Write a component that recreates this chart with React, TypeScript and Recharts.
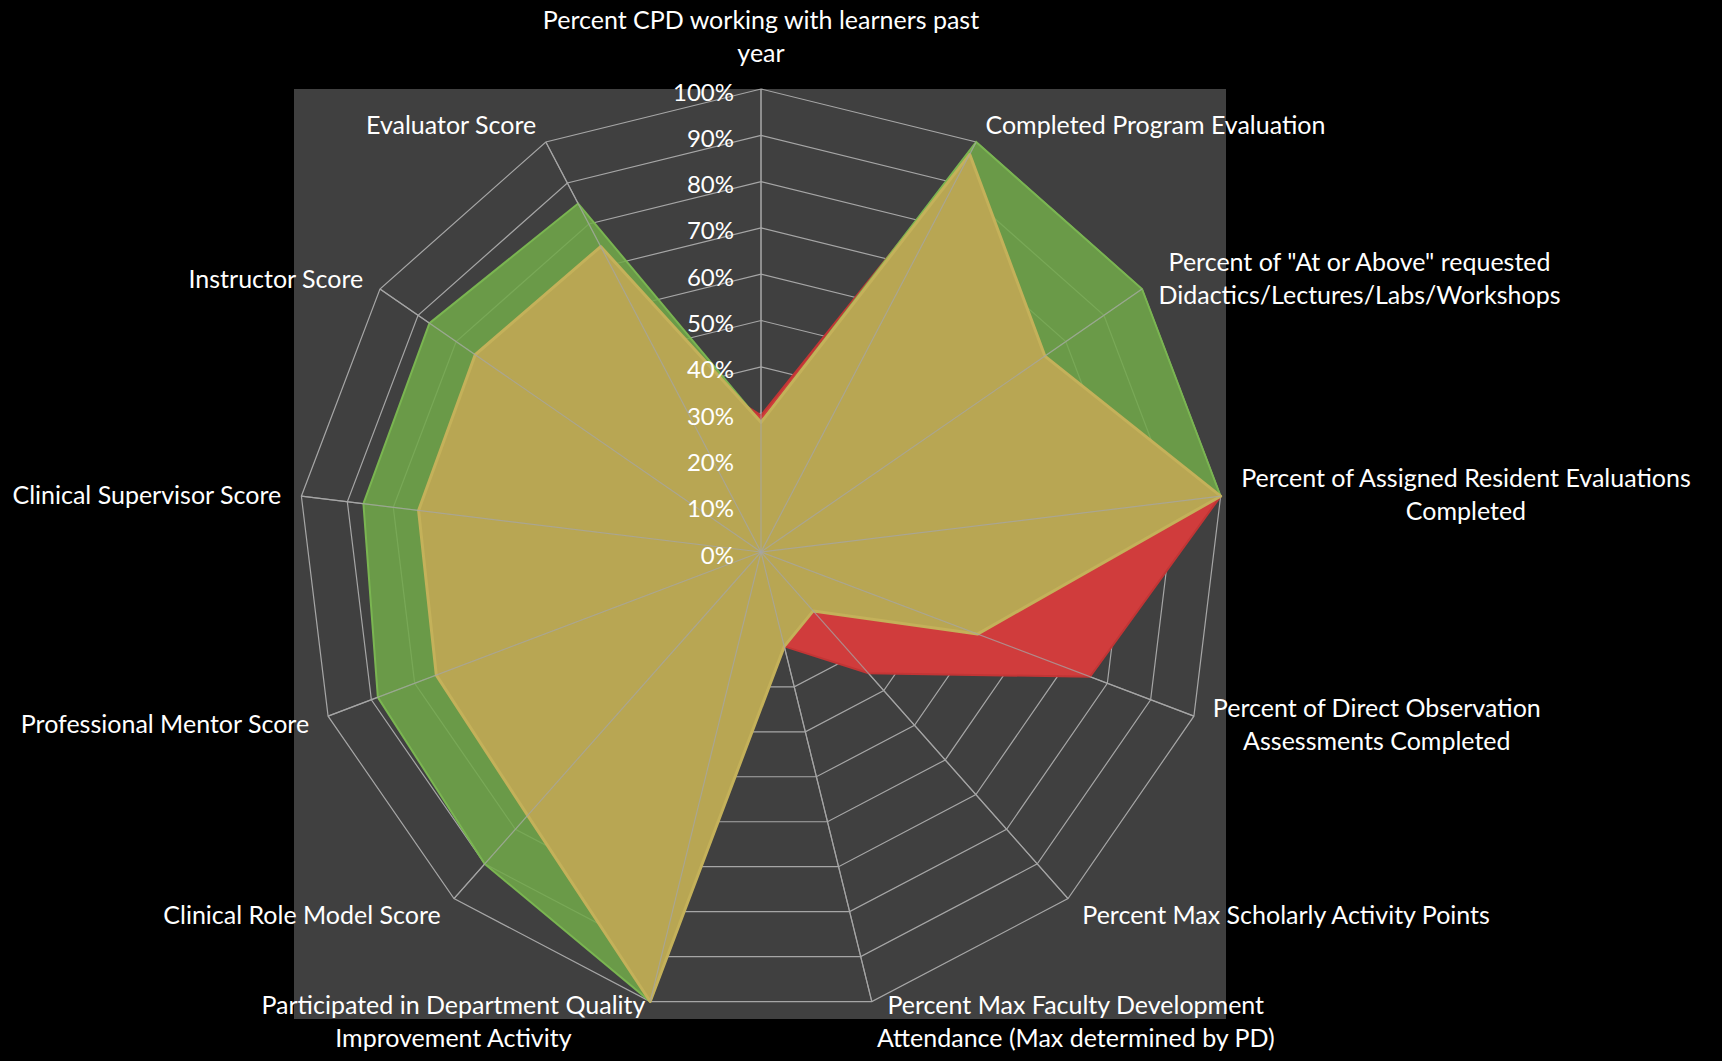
import React from 'react';
import { RadarChart, Radar, PolarGrid, PolarAngleAxis, PolarRadiusAxis } from 'recharts';

// axis categories, clockwise from the top
const categories = [
  'Percent CPD working with learners past\nyear',
  'Completed Program Evaluation',
  'Percent of "At or Above" requested\nDidactics/Lectures/Labs/Workshops',
  'Percent of Assigned Resident Evaluations\nCompleted',
  'Percent of Direct Observation\nAssessments Completed',
  'Percent Max Scholarly Activity Points',
  'Percent Max Faculty Development\nAttendance (Max determined by PD)',
  'Participated in Department Quality\nImprovement Activity',
  'Clinical Role Model Score',
  'Professional Mentor Score',
  'Clinical Supervisor Score',
  'Instructor Score',
  'Evaluator Score',
];

// percent of target per category
const redValues = [29.5, 97, 70, 100, 76, 35, 21, 90, 60, 60, 60, 55, 50];
const greenValues = [28, 100, 100, 100, 45, 15, 18, 100, 90, 88.5, 86.5, 87, 85];
const goldValues = [28, 97, 74.5, 100, 50, 17, 21, 100, 76, 75, 74.5, 75, 74.5];

const radiusTicks = [0, 10, 20, 30, 40, 50, 60, 70, 80, 90, 100];

const data = categories.map((name, i) => ({
  name,
  red: redValues[i],
  green: greenValues[i],
  gold: goldValues[i],
}));

const W = 1722;
const H = 1061;
const CX = 761;
const CY = 552;
const R = 463;
const FONT = 'Lato, "Open Sans", sans-serif';
const LABEL_SIZE = 25;
const LINE_H = 33;
const GAP = 20;
const GRID = '#a6a6a6';

let ctx: CanvasRenderingContext2D | null = null;
const textWidth = (s: string) => {
  if (!ctx && typeof document !== 'undefined') ctx = document.createElement('canvas').getContext('2d');
  if (!ctx) return s.length * 12;
  ctx.font = `${LABEL_SIZE}px Lato`;
  return ctx.measureText(s).width;
};

// category labels sit just outside each spoke end, Excel style
const AngleTick = (props: any) => {
  const { payload } = props;
  const a = (payload.coordinate * Math.PI) / 180;
  const right = Math.cos(a);
  const up = Math.sin(a);
  const vx = CX + R * right;
  const vy = CY - R * up;
  const lines = String(payload.value).split('\n');
  const w = Math.max(...lines.map(textWidth));
  const h = lines.length * LINE_H;
  let midX: number;
  let midY: number;
  if (Math.abs(right) < 0.05) {
    midX = vx;
    midY = up > 0 ? vy - 21 - h / 2 : vy + 21 + h / 2;
  } else {
    const edge = vx + GAP * right;
    midX = right > 0 ? edge + w / 2 : edge - w / 2;
    midY = vy - GAP * up;
  }
  return (
    <g>
      {lines.map((line, i) => (
        <text
          key={i}
          x={midX}
          y={midY + (i - (lines.length - 1) / 2) * LINE_H}
          textAnchor="middle"
          dominantBaseline="central"
          fill="#ffffff"
          fontSize={LABEL_SIZE}
          fontFamily={FONT}
        >
          {line}
        </text>
      ))}
    </g>
  );
};

const RadiusTick = (props: any) => {
  const { x, y, payload } = props;
  return (
    <text
      x={x - 27}
      y={y + 2}
      textAnchor="end"
      dominantBaseline="central"
      fill="#ffffff"
      fontSize={24}
      fontFamily={FONT}
    >
      {`${Math.round(payload.value)}%`}
    </text>
  );
};

// front series, with the spokes laid over every fill
const GoldShape = (props: any) => {
  const { points, fill, stroke } = props;
  if (!points || !points.length) return <g />;
  const d = points.map((p: any, i: number) => `${i ? 'L' : 'M'}${p.x},${p.y}`).join('') + 'Z';
  return (
    <g>
      <path d={d} fill={fill} stroke={stroke} strokeWidth={3} strokeLinejoin="round" />
      {points.map((p: any, i: number) => {
        const a = (p.angle * Math.PI) / 180;
        return (
          <line
            key={i}
            x1={p.cx}
            y1={p.cy}
            x2={p.cx + R * Math.cos(a)}
            y2={p.cy - R * Math.sin(a)}
            stroke={GRID}
            strokeOpacity={0.75}
            strokeWidth={1.2}
          />
        );
      })}
    </g>
  );
};

export default function App() {
  return (
    <div style={{ position: 'absolute', left: 0, top: 0, width: W, height: H, background: '#000000' }}>
      <div
        style={{
          position: 'absolute',
          left: CX - R - 4,
          top: CY - R,
          width: 2 * R + 6,
          height: 2 * R + 4,
          background: '#404040',
        }}
      />
      <div style={{ position: 'absolute', left: 0, top: 0 }}>
        <RadarChart
          width={W}
          height={H}
          data={data}
          cx={CX}
          cy={CY}
          outerRadius={R}
          margin={{ top: 0, right: 0, bottom: 0, left: 0 }}
        >
          <PolarGrid
            gridType="polygon"
            stroke={GRID}
            strokeWidth={1.2}
            polarRadius={radiusTicks.map((t) => (t / 100) * R)}
          />
          <PolarAngleAxis dataKey="name" tick={AngleTick} tickLine={false} axisLine={false} />
          <Radar
            dataKey="red"
            fill="#d03c3c"
            fillOpacity={1}
            stroke="#c23535"
            strokeWidth={2}
            isAnimationActive={false}
          />
          <Radar
            dataKey="green"
            fill="#71a949"
            fillOpacity={0.86}
            stroke="#7ab551"
            strokeWidth={2}
            isAnimationActive={false}
          />
          <Radar
            dataKey="gold"
            fill="#b8a653"
            fillOpacity={1}
            stroke="#c4b15a"
            shape={GoldShape}
            isAnimationActive={false}
          />
          <PolarRadiusAxis
            angle={90}
            type="number"
            domain={[0, 100]}
            ticks={radiusTicks as any}
            tickCount={11}
            allowDecimals
            axisLine={false}
            tickLine={false}
            tick={RadiusTick}
          />
        </RadarChart>
      </div>
    </div>
  );
}
